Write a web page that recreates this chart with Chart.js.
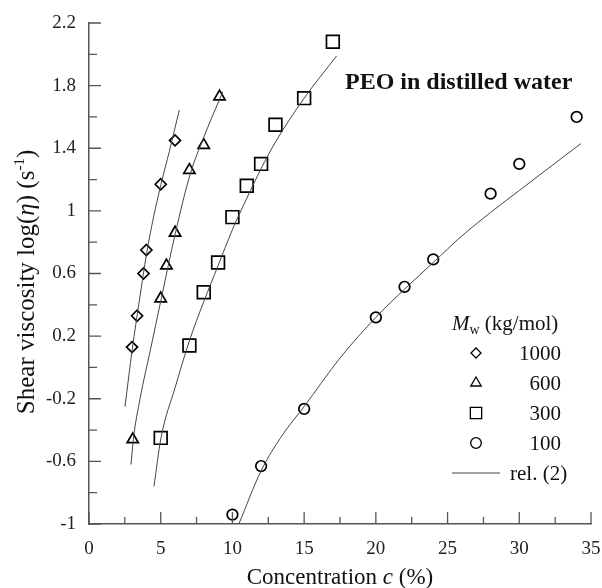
<!DOCTYPE html>
<html>
<head>
<script src="https://cdn.jsdelivr.net/npm/chart.js@4.4.0/dist/chart.umd.min.js"></script>
<style>
  body { margin: 0; background: #fff; }
  #wrap { width: 602px; height: 588px; }
</style>
</head>
<body>
<div id="wrap"><canvas id="chart"></canvas></div>
<script>
// axis ticks
var xTicks = [0, 5, 10, 15, 20, 25, 30, 35];
var xMinor = [2.5, 7.5, 12.5, 17.5, 22.5, 27.5, 32.5];
var yTicks = [-1, -0.6, -0.2, 0.2, 0.6, 1, 1.4, 1.8, 2.2];
var yMinor = [-0.8, -0.4, 0, 0.4, 0.8, 1.2, 1.6, 2.0];

// measured points, Mw in kg/mol
var c1000 = [3.0, 3.35, 3.8, 4.0, 5.0, 6.0];
var v1000 = [0.13, 0.33, 0.6, 0.75, 1.17, 1.45];
var c600 = [3.05, 5.0, 5.4, 6.0, 7.0, 8.0, 9.1];
var v600 = [-0.46, 0.44, 0.65, 0.86, 1.26, 1.42, 1.73];
var c300 = [5.0, 7.0, 8.0, 9.0, 10.0, 11.0, 12.0, 13.0, 15.0, 17.0];
var v300 = [-0.45, 0.14, 0.48, 0.67, 0.96, 1.16, 1.30, 1.55, 1.72, 2.08];
var c100 = [10, 12, 15, 20, 22, 24, 28, 30, 34];
var v100 = [-0.94, -0.63, -0.265, 0.32, 0.515, 0.69, 1.11, 1.30, 1.60];

// rel. (2) curves
var fc1000 = [2.51, 3.02, 3.5, 4.02, 4.5, 5.02, 5.6, 6.3];
var fv1000 = [-0.25, 0.12, 0.42, 0.73, 0.96, 1.17, 1.38, 1.645];
var fc600 = [2.93, 3.09, 3.56, 4.3, 5.04, 6.02, 7.04, 8.0, 9.09, 9.32];
var fv600 = [-0.62, -0.46, -0.2, 0.12, 0.44, 0.857, 1.23, 1.47, 1.71, 1.76];
var fc300 = [4.53, 5.02, 6.0, 7.0, 8.0, 9.0, 10.0, 11.0, 12.0, 13.0, 15.0, 17.27];
var fv300 = [-0.76, -0.45, -0.13, 0.17, 0.42, 0.65, 0.88, 1.08, 1.27, 1.44, 1.72, 1.99];
var fc100 = [10.45, 12, 13.5, 15, 17.5, 20, 22, 24, 26, 28, 30, 32, 34.3];
var fv100 = [-1, -0.66, -0.43, -0.25, 0.06, 0.32, 0.5, 0.67, 0.84, 0.99, 1.13, 1.27, 1.43];

var serif = "'Liberation Serif', 'Times New Roman', serif";
var axisColor = '#555';

function pts(xs, ys) {
  return xs.map(function (x, i) { return { x: x, y: ys[i] }; });
}

function fitSet(xs, ys) {
  return {
    data: pts(xs, ys), showLine: true, pointRadius: 0, pointHoverRadius: 0,
    borderColor: '#444', borderWidth: 1, cubicInterpolationMode: 'monotone', fill: false
  };
}

function markSet(xs, ys, style, r) {
  return {
    data: pts(xs, ys), showLine: false, pointStyle: style, pointRadius: r,
    pointBorderColor: '#000', pointBackgroundColor: 'rgba(0,0,0,0)', pointBorderWidth: 1.7
  };
}

// draws a row of text pieces with their own fonts
function drawRuns(ctx, runs, x, y, align) {
  var total = 0;
  runs.forEach(function (r) { ctx.font = r.font; r.w = ctx.measureText(r.t).width; total += r.w; });
  var cx = align === 'center' ? x - total / 2 : (align === 'right' ? x - total : x);
  runs.forEach(function (r) {
    ctx.font = r.font;
    ctx.fillText(r.t, cx, y + (r.dy || 0));
    cx += r.w;
  });
}

var decor = {
  id: 'decor',
  afterDraw: function (chart) {
    var ctx = chart.ctx, xs = chart.scales.x, ys = chart.scales.y, a = chart.chartArea;
    ctx.save();
    // inward ticks
    ctx.strokeStyle = axisColor;
    ctx.lineWidth = 1.3;
    ctx.beginPath();
    xTicks.forEach(function (v) { var p = xs.getPixelForValue(v); ctx.moveTo(p, a.bottom); ctx.lineTo(p, a.bottom - 12); });
    xMinor.forEach(function (v) { var p = xs.getPixelForValue(v); ctx.moveTo(p, a.bottom); ctx.lineTo(p, a.bottom - 7); });
    yTicks.forEach(function (v) { var p = ys.getPixelForValue(v); ctx.moveTo(a.left, p); ctx.lineTo(a.left + 12, p); });
    yMinor.forEach(function (v) { var p = ys.getPixelForValue(v); ctx.moveTo(a.left, p); ctx.lineTo(a.left + 8, p); });
    ctx.stroke();

    ctx.fillStyle = '#111';
    ctx.textBaseline = 'alphabetic';
    // title
    ctx.font = 'bold 24px ' + serif;
    ctx.textAlign = 'left';
    ctx.fillText('PEO in distilled water', 345, 89);

    // x axis title
    drawRuns(ctx, [
      { t: 'Concentration ', font: '23px ' + serif },
      { t: 'c', font: 'italic 23px ' + serif },
      { t: ' (%)', font: '23px ' + serif }
    ], 340, 584, 'center');

    // y axis title
    ctx.save();
    ctx.translate(34, 282);
    ctx.rotate(-Math.PI / 2);
    drawRuns(ctx, [
      { t: 'Shear viscosity log(', font: '25px ' + serif },
      { t: '\u03b7', font: 'italic 25px ' + serif },
      { t: ') (s', font: '25px ' + serif },
      { t: '-1', font: '15px ' + serif, dy: -10 },
      { t: ')', font: '25px ' + serif }
    ], 0, 0, 'center');
    ctx.restore();

    // legend
    drawRuns(ctx, [
      { t: 'M', font: 'italic 21px ' + serif },
      { t: 'w', font: '14px ' + serif, dy: 4 },
      { t: ' (kg/mol)', font: '21px ' + serif }
    ], 452, 330, 'left');
    var rows = [
      { s: 'rectRot', r: 5, label: '1000' },
      { s: 'triangle', r: 6, label: '600' },
      { s: 'rect', r: 8, label: '300' },
      { s: 'circle', r: 5.3, label: '100' }
    ];
    ctx.font = '21px ' + serif;
    rows.forEach(function (row, i) {
      var yy = 353 + i * 30;
      ctx.strokeStyle = '#000';
      ctx.fillStyle = 'rgba(0,0,0,0)';
      Chart.helpers.drawPoint(ctx, { pointStyle: row.s, radius: row.r, rotation: 0, borderWidth: 1.7 }, 476, yy);
      ctx.fillStyle = '#111';
      ctx.textAlign = 'right';
      ctx.fillText(row.label, 561, yy + 7);
    });
    ctx.strokeStyle = '#444';
    ctx.lineWidth = 1;
    ctx.beginPath();
    ctx.moveTo(452, 473);
    ctx.lineTo(500, 473);
    ctx.stroke();
    ctx.textAlign = 'left';
    ctx.fillText('rel. (2)', 510, 480);
    ctx.restore();
  }
};

var ctx = document.getElementById('chart').getContext('2d');
var chart = new Chart(ctx, {
  type: 'scatter',
  data: {
    datasets: [
      fitSet(fc1000, fv1000),
      fitSet(fc600, fv600),
      fitSet(fc300, fv300),
      fitSet(fc100, fv100),
      markSet(c1000, v1000, 'rectRot', 5.5),
      markSet(c600, v600, 'triangle', 6.5),
      markSet(c300, v300, 'rect', 9),
      markSet(c100, v100, 'circle', 5.3)
    ]
  },
  options: {
    responsive: true,
    maintainAspectRatio: false,
    animation: false,
    events: [],
    layout: { padding: { top: 23, right: 11, left: 0, bottom: 0 } },
    plugins: { legend: { display: false }, tooltip: { enabled: false } },
    scales: {
      x: {
        type: 'linear', min: 0, max: 35,
        afterBuildTicks: function (s) { s.ticks = xTicks.map(function (v) { return { value: v }; }); },
        afterFit: function (s) { s.height = 64; s.paddingLeft = 0; s.paddingRight = 0; },
        grid: { display: false, drawTicks: false },
        border: { display: true, color: axisColor, width: 1.5 },
        ticks: { color: '#222', padding: 14, maxRotation: 0, autoSkip: false, font: { family: serif, size: 19 },
          callback: function (v) { return String(v); } }
      },
      y: {
        type: 'linear', min: -1, max: 2.2,
        afterBuildTicks: function (s) { s.ticks = yTicks.map(function (v) { return { value: v }; }); },
        afterFit: function (s) { s.width = 89; s.paddingTop = 0; s.paddingBottom = 0; },
        grid: { display: false, drawTicks: false },
        border: { display: true, color: axisColor, width: 1.5 },
        ticks: { color: '#222', padding: 13, autoSkip: false, font: { family: serif, size: 19 },
          callback: function (v) { return String(v); } }
      }
    }
  },
  plugins: [decor]
});
</script>
</body>
</html>
